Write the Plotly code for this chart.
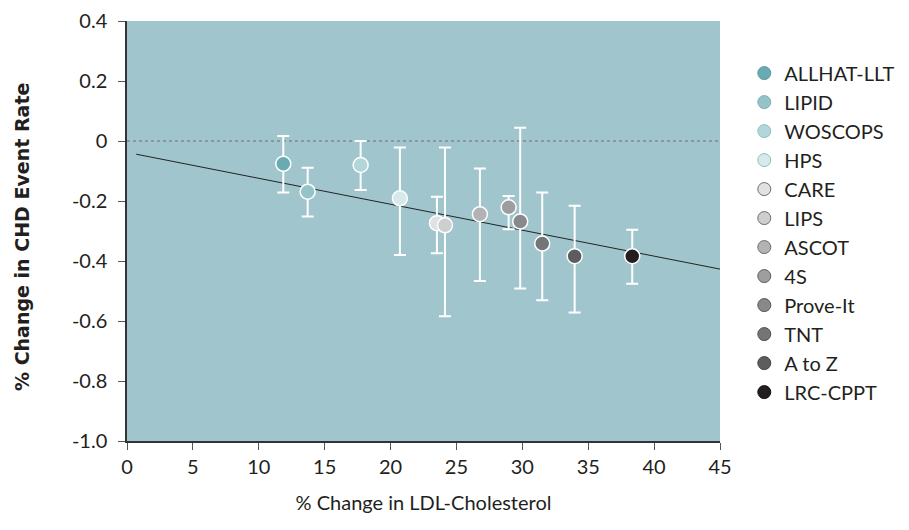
import plotly.graph_objects as go

studies = ["ALLHAT-LLT", "LIPID", "WOSCOPS", "HPS", "CARE", "LIPS", "ASCOT",
           "4S", "Prove-It", "TNT", "A to Z", "LRC-CPPT"]
ldl_change = [11.86, 13.71, 17.73, 20.71, 23.52, 24.13, 26.78, 28.96, 29.84, 31.51, 33.97, 38.34]
chd_change = [-0.076, -0.169, -0.080, -0.191, -0.274, -0.281, -0.244, -0.221, -0.268, -0.342, -0.384, -0.384]
ci_upper = [0.017, -0.089, 0.000, -0.022, -0.186, -0.022, -0.092, -0.183, 0.044, -0.172, -0.216, -0.296]
ci_lower = [-0.172, -0.252, -0.163, -0.380, -0.374, -0.584, -0.467, -0.294, -0.492, -0.531, -0.572, -0.476]
fill_colors = ["#6aaab3", "#95c3c8", "#b3d6d9", "#d8e9eb", "#e0e1e2", "#cdcecf", "#b2b3b5",
               "#9d9ea0", "#88898b", "#747577", "#5c5d5f", "#231f20"]
legend_lines = ["#5a9aa3", "#7fb0b6", "#8fbec2", "#8fbec2", "#6e6e6e", "#6e6e6e", "#6e6e6e",
                "#5e5e5e", "#555555", "#4e4e4e", "#444444", "#111111"]
fit_x = [0.7, 45]
fit_y = [-0.044, -0.427]
x_ticks = [0, 5, 10, 15, 20, 25, 30, 35, 40, 45]
y_ticks = [0.4, 0.2, 0, -0.2, -0.4, -0.6, -0.8, -1.0]
y_tick_text = ["0.4", "0.2", "0", "-0.2", "-0.4", "-0.6", "-0.8", "-1.0"]

FONT = "Lato, 'Noto Sans', sans-serif"
TEXT = "#231f20"

fig = go.Figure()

# zero reference line
fig.add_trace(go.Scatter(x=[0, 45], y=[0, 0], mode="lines",
                         line=dict(color="#7d8a8d", width=1.5, dash="dot"),
                         showlegend=False, hoverinfo="skip"))
# regression line
fig.add_trace(go.Scatter(x=fit_x, y=fit_y, mode="lines",
                         line=dict(color="#222222", width=1),
                         showlegend=False, hoverinfo="skip"))

for i, name in enumerate(studies):
    fig.add_trace(go.Scatter(
        x=[ldl_change[i]], y=[chd_change[i]], mode="markers", name=name,
        marker=dict(size=15, color=fill_colors[i], line=dict(color="white", width=1.5)),
        error_y=dict(type="data", symmetric=False,
                     array=[ci_upper[i] - chd_change[i]],
                     arrayminus=[chd_change[i] - ci_lower[i]],
                     color="white", thickness=2, width=6),
        showlegend=False))

for i, name in enumerate(studies):
    fig.add_trace(go.Scatter(
        x=[None], y=[None], mode="markers", name=name,
        marker=dict(size=13, color=fill_colors[i], line=dict(color=legend_lines[i], width=1)),
        showlegend=True))

fig.update_layout(
    width=909, height=530,
    margin=dict(l=119, r=197, t=13, b=97),
    plot_bgcolor="#a0c5cc",
    paper_bgcolor="white",
    font=dict(family=FONT, color=TEXT, size=20),
    legend=dict(xref="container", yref="container", x=0.810, y=0.914,
                xanchor="left", yanchor="top", maxheight=420,
                font=dict(family=FONT, size=20, color=TEXT),
                itemwidth=30, bgcolor="rgba(0,0,0,0)"),
    xaxis=dict(range=[0, 45], tickvals=x_ticks, showgrid=False, zeroline=False,
               automargin=False,
               showline=True, linecolor="#333333", linewidth=1.5,
               ticks="outside", ticklen=7, tickcolor="#555555",
               tickfont=dict(size=20), ticklabelstandoff=0,
               title=dict(text="% Change in LDL-Cholesterol", standoff=19,
                          font=dict(size=20))),
    yaxis=dict(range=[-1.0, 0.4], tickvals=y_ticks, ticktext=y_tick_text,
               showgrid=False, zeroline=False, automargin=False,
               showline=True, linecolor="#333333", linewidth=1.5,
               ticks="outside", ticklen=7, tickcolor="#555555",
               tickfont=dict(size=20), ticklabelstandoff=7),
    annotations=[dict(text="<b>% Change in CHD Event Rate</b>", textangle=-90,
                      xref="paper", yref="paper", x=0, y=0.5,
                      xanchor="center", yanchor="middle",
                      xshift=-105, yshift=-6, showarrow=False,
                      font=dict(size=19, family="'DejaVu Sans', sans-serif", color=TEXT))],
)

fig.write_html("out.html")
